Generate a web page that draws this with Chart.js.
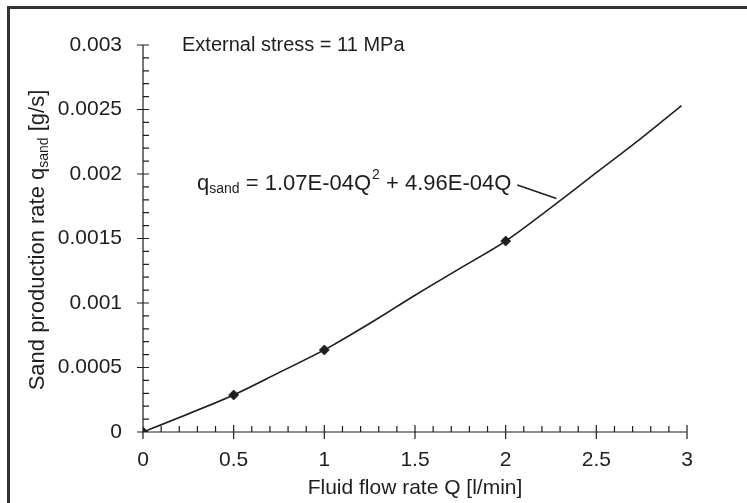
<!DOCTYPE html>
<html>
<head>
<meta charset="utf-8">
<script src="https://cdn.jsdelivr.net/npm/chart.js@4/dist/chart.umd.min.js"></script>
<style>
  html, body { margin: 0; padding: 0; background: #fff; }
  #wrap { width: 747px; height: 503px; }
</style>
</head>
<body>
<div id="wrap"><canvas id="chart" width="747" height="503"></canvas></div>
<script>
// measured points (diamonds)
const flowQ = [0, 0.5, 1, 2];
const sandRate = [0, 0.000287, 0.000636, 0.00148];

// fitted curve
const fitQ = [0, 0.25, 0.5, 0.75, 1, 1.25, 1.5, 1.75, 2, 2.25, 2.5, 2.75, 2.97];
const fitRate = [0, 0.00014, 0.000287, 0.00046, 0.000636, 0.00084, 0.00106, 0.00127, 0.00148, 0.00174, 0.00201, 0.00228, 0.00253];

const xTicks = [0, 0.5, 1, 1.5, 2, 2.5, 3];
const yTicks = [0, 0.0005, 0.001, 0.0015, 0.002, 0.0025, 0.003];
const yTickLabels = ["0", "0.0005", "0.001", "0.0015", "0.002", "0.0025", "0.003"];

// where the equation's leader line meets the curve
const leaderQ = 2.28;
const leaderRate = 0.00181;

const FONT = "'Liberation Sans', Arial, Helvetica, sans-serif";
const INK = "#1e1e1e";

const paperPlugin = {
  id: "paper",
  beforeDraw(chart) {
    const { ctx, width, height } = chart;
    ctx.save();
    ctx.fillStyle = "#fff";
    ctx.fillRect(0, 0, width, height);
    // scanned frame: top and left edges
    ctx.fillStyle = "#333";
    ctx.fillRect(7, 6, width - 7, 3);
    ctx.fillRect(7, 6, 3, height - 6);
    ctx.restore();
  },
  afterDraw(chart) {
    const { ctx } = chart;
    const xs = chart.scales.x, ys = chart.scales.y;
    const x0 = xs.getPixelForValue(0), y0 = ys.getPixelForValue(0);
    ctx.save();
    ctx.strokeStyle = INK;
    ctx.lineWidth = 1.2;
    ctx.beginPath();
    // axes
    ctx.moveTo(x0, ys.getPixelForValue(0.003));
    ctx.lineTo(x0, y0);
    ctx.lineTo(xs.getPixelForValue(3), y0);
    // y ticks: minor every 0.0001 inside, major crossing
    for (let i = 0; i <= 30; i++) {
      const py = ys.getPixelForValue(i * 0.0001);
      if (i % 5 === 0) { ctx.moveTo(x0 - 6, py); ctx.lineTo(x0 + 6, py); }
      else { ctx.moveTo(x0, py); ctx.lineTo(x0 + 6, py); }
    }
    // x ticks: minor every 0.1 inside, major crossing
    for (let i = 0; i <= 30; i++) {
      const px = xs.getPixelForValue(i * 0.1);
      if (i % 5 === 0) { ctx.moveTo(px, y0 - 7); ctx.lineTo(px, y0 + 7); }
      else { ctx.moveTo(px, y0); ctx.lineTo(px, y0 - 6); }
    }
    ctx.stroke();

    ctx.fillStyle = INK;
    ctx.textBaseline = "middle";
    ctx.textAlign = "left";
    ctx.font = "20px " + FONT;
    ctx.fillText("External stress = 11 MPa", 182, 45);

    // equation label
    let tx = 197;
    const ty = 184;
    ctx.font = "22px " + FONT;
    ctx.fillText("q", tx, ty);
    tx += ctx.measureText("q").width;
    ctx.font = "14px " + FONT;
    ctx.fillText("sand", tx, ty + 5);
    tx += ctx.measureText("sand").width;
    ctx.font = "22px " + FONT;
    const part1 = " = 1.07E-04Q";
    ctx.fillText(part1, tx, ty);
    tx += ctx.measureText(part1).width;
    ctx.font = "14px " + FONT;
    ctx.fillText("2", tx + 1, ty - 9);
    tx += ctx.measureText("2").width + 1;
    ctx.font = "22px " + FONT;
    const part2 = " + 4.96E-04Q";
    ctx.fillText(part2, tx, ty);
    tx += ctx.measureText(part2).width;

    ctx.beginPath();
    ctx.lineWidth = 1.4;
    ctx.moveTo(tx + 6, ty + 1);
    ctx.lineTo(xs.getPixelForValue(leaderQ), ys.getPixelForValue(leaderRate));
    ctx.stroke();

    // y axis title with subscript, rotated
    ctx.save();
    ctx.translate(38, 240);
    ctx.rotate(-Math.PI / 2);
    const a = "Sand production rate q", b = "sand", c = " [g/s]";
    ctx.font = "22px " + FONT;
    const wa = ctx.measureText(a).width, wc = ctx.measureText(c).width;
    ctx.font = "14px " + FONT;
    const wb = ctx.measureText(b).width;
    let sx = -(wa + wb + wc) / 2;
    ctx.textAlign = "left";
    ctx.font = "22px " + FONT;
    ctx.fillText(a, sx, 0);
    sx += wa;
    ctx.font = "14px " + FONT;
    ctx.fillText(b, sx, 6);
    sx += wb;
    ctx.font = "22px " + FONT;
    ctx.fillText(c, sx, 0);
    ctx.restore();

    ctx.restore();
  }
};

new Chart(document.getElementById("chart"), {
  type: "scatter",
  data: {
    datasets: [
      {
        label: "fit",
        data: fitQ.map((q, i) => ({ x: q, y: fitRate[i] })),
        showLine: true,
        borderColor: INK,
        borderWidth: 1.5,
        pointRadius: 0,
        cubicInterpolationMode: "monotone",
        fill: false,
      },
      {
        label: "measured",
        data: flowQ.map((q, i) => ({ x: q, y: sandRate[i] })),
        showLine: true,
        borderColor: "#555",
        borderWidth: 0.8,
        pointStyle: "rectRot",
        pointRadius: 5,
        pointBackgroundColor: INK,
        pointBorderColor: INK,
        fill: false,
      },
    ],
  },
  options: {
    responsive: false,
    animation: false,
    devicePixelRatio: 1,
    layout: { padding: { left: 0, top: 45, right: 60, bottom: 0 } },
    plugins: { legend: { display: false }, tooltip: { enabled: false } },
    scales: {
      x: {
        type: "linear",
        min: 0,
        max: 3,
        afterBuildTicks: (s) => { s.ticks = xTicks.map((v) => ({ value: v })); },
        afterFit: (s) => { s.height = 71; },
        grid: { display: false, drawTicks: false },
        border: { display: false },
        ticks: {
          padding: 16,
          color: INK,
          font: { family: FONT, size: 21 },
          callback: (v) => String(v),
        },
        title: {
          display: true,
          text: "Fluid flow rate Q [l/min]",
          color: INK,
          font: { family: FONT, size: 21 },
          padding: { top: 0, bottom: 2 },
        },
      },
      y: {
        type: "linear",
        min: 0,
        max: 0.003,
        afterBuildTicks: (s) => { s.ticks = yTicks.map((v) => ({ value: v })); },
        afterFit: (s) => { s.width = 143; },
        grid: { display: false, drawTicks: false },
        border: { display: false },
        ticks: {
          padding: 21,
          color: INK,
          font: { family: FONT, size: 21 },
          callback: (v) => yTickLabels[yTicks.indexOf(v)] ?? String(v),
        },
      },
    },
  },
  plugins: [paperPlugin],
});
</script>
</body>
</html>
